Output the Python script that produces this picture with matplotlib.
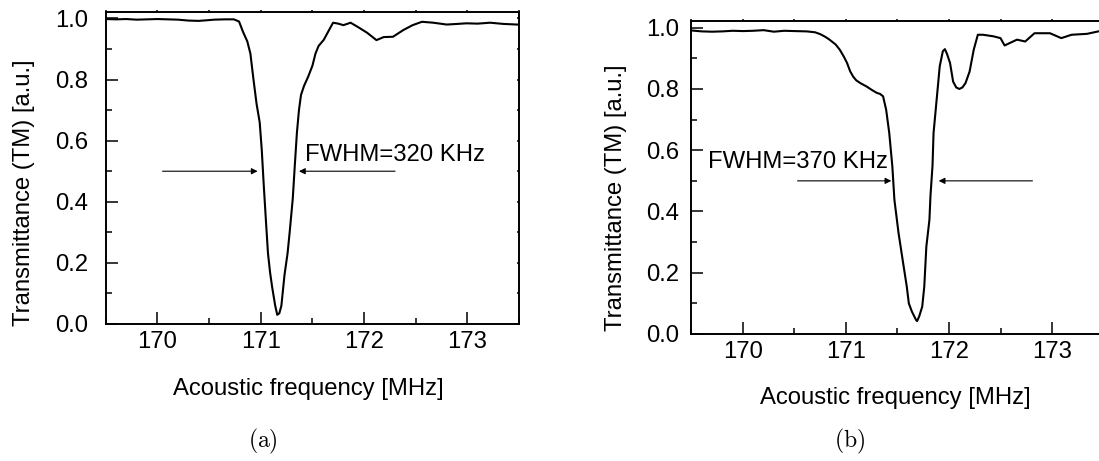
import matplotlib
matplotlib.use("Agg")
import matplotlib.pyplot as plt
from matplotlib.ticker import MultipleLocator

plt.rcParams['font.family'] = ['Liberation Sans', 'DejaVu Sans']
plt.rcParams['mathtext.fontset'] = 'cm'

# Panel (a): transmittance versus acoustic frequency
freq_a = [169.50, 169.60, 169.70, 169.80, 169.90, 170.00, 170.10, 170.20, 170.30,
          170.40, 170.48, 170.55, 170.65, 170.74, 170.79, 170.83, 170.87, 170.90,
          170.93, 170.96, 170.99, 171.01, 171.03, 171.05, 171.07, 171.09, 171.11,
          171.14, 171.16, 171.18, 171.20, 171.23, 171.26, 171.28, 171.31, 171.33,
          171.35, 171.37, 171.39, 171.42, 171.46, 171.50, 171.53, 171.56, 171.61,
          171.65, 171.70, 171.75, 171.80, 171.87, 171.95, 172.03, 172.12, 172.19,
          172.28, 172.38, 172.47, 172.56, 172.67, 172.80, 172.90, 172.99, 173.10,
          173.22, 173.35, 173.48]
trans_a = [0.998, 0.997, 0.998, 0.996, 0.997, 0.998, 0.997, 0.996, 0.993,
           0.992, 0.994, 0.996, 0.997, 0.997, 0.990, 0.955, 0.925, 0.885,
           0.800, 0.720, 0.660, 0.570, 0.450, 0.340, 0.232, 0.170, 0.122,
           0.060, 0.030, 0.035, 0.060, 0.160, 0.232, 0.300, 0.410, 0.520,
           0.625, 0.700, 0.750, 0.780, 0.810, 0.845, 0.885, 0.910, 0.930,
           0.955, 0.986, 0.983, 0.978, 0.986, 0.970, 0.953, 0.929, 0.939,
           0.940, 0.962, 0.978, 0.989, 0.986, 0.980, 0.982, 0.984, 0.983,
           0.986, 0.982, 0.980]

# Panel (b)
freq_b = [169.50, 169.60, 169.70, 169.80, 169.90, 170.00, 170.10, 170.20, 170.30,
          170.40, 170.50, 170.62, 170.70, 170.75, 170.80, 170.84, 170.90, 170.94,
          170.98, 171.01, 171.04, 171.07, 171.10, 171.14, 171.20, 171.25, 171.30,
          171.33, 171.36, 171.39, 171.42, 171.45, 171.47, 171.51, 171.54, 171.56,
          171.59, 171.61, 171.64, 171.68, 171.69, 171.71, 171.74, 171.76, 171.77,
          171.78, 171.81, 171.82, 171.84, 171.85, 171.88, 171.91, 171.94, 171.96,
          171.98, 172.01, 172.04, 172.07, 172.10, 172.13, 172.16, 172.20, 172.24,
          172.28, 172.33, 172.43, 172.50, 172.54, 172.59, 172.66, 172.74, 172.83,
          172.90, 172.98, 173.09, 173.19, 173.34, 173.45, 173.60]
trans_b = [0.991, 0.988, 0.987, 0.988, 0.990, 0.989, 0.990, 0.992, 0.987,
           0.990, 0.989, 0.988, 0.985, 0.979, 0.970, 0.961, 0.945, 0.928,
           0.905, 0.885, 0.858, 0.840, 0.828, 0.819, 0.808, 0.797, 0.787,
           0.784, 0.776, 0.732, 0.656, 0.547, 0.438, 0.330, 0.264, 0.220,
           0.155, 0.100, 0.073, 0.046, 0.042, 0.057, 0.089, 0.155, 0.220,
           0.285, 0.373, 0.450, 0.550, 0.656, 0.765, 0.874, 0.923, 0.930,
           0.915, 0.885, 0.824, 0.805, 0.800, 0.805, 0.819, 0.857, 0.928,
           0.977, 0.977, 0.972, 0.966, 0.942, 0.950, 0.961, 0.955, 0.982,
           0.982, 0.982, 0.966, 0.977, 0.980, 0.988, 0.990]

x_ticks = [170, 171, 172, 173]
y_ticks = [0.0, 0.2, 0.4, 0.6, 0.8, 1.0]
x_label = "Acoustic frequency [MHz]"
y_label = "Transmittance (TM) [a.u.]"

# FWHM annotations: (text, text position, left arrow tail/head, right arrow tail/head, level)
fwhm_a = ("FWHM=320 KHz", (171.43, 0.554), (170.05, 170.97), (172.30, 171.37), 0.5)
fwhm_b = ("FWHM=370 KHz", (169.66, 0.561), (170.53, 171.44), (172.81, 171.90), 0.5)

FS = 17.2

fig = plt.figure(figsize=(10.99, 4.61), dpi=100)
ax_a = fig.add_axes([0.0962, 0.2972, 0.3761, 0.6774])
ax_b = fig.add_axes([0.6292, 0.2755, 0.3749, 0.6790])


def style(ax, freq, trans, fwhm, ypad):
    ax.plot(freq, trans, color='black', lw=1.5)
    ax.set_xlim(169.5, 173.5)
    ax.set_ylim(0, 1.022)
    ax.set_xticks(x_ticks)
    ax.set_yticks(y_ticks)
    ax.set_yticklabels([f"{v:.1f}" for v in y_ticks])
    ax.xaxis.set_minor_locator(MultipleLocator(0.5))
    ax.yaxis.set_minor_locator(MultipleLocator(0.1))
    for s in ax.spines.values():
        s.set_linewidth(1.4)
    ax.tick_params(axis='both', which='major', direction='in', length=8.6,
                   width=1.1, labelsize=FS)
    ax.tick_params(axis='both', which='minor', direction='in', length=4.3,
                   width=1.1)
    ax.tick_params(axis='x', which='major', pad=5)
    ax.tick_params(axis='y', which='major', pad=ypad)
    # small outward marks along the top and right frame
    ax.tick_params(which='both', top=True, right=True)
    ax.tick_params(axis='x', which='both', labeltop=False)
    ax.tick_params(axis='y', which='both', labelright=False)
    for t in ax.xaxis.get_major_ticks() + ax.xaxis.get_minor_ticks():
        t.tick2line.set_markersize(1.5)
        t.tick2line.set_marker(2)
    for t in ax.yaxis.get_major_ticks() + ax.yaxis.get_minor_ticks():
        t.tick2line.set_markersize(1.5)
        t.tick2line.set_marker(0)
    ax.set_xlabel(x_label, fontsize=FS)
    ax.set_ylabel(y_label, fontsize=FS)

    text, pos, left, right, level = fwhm
    ax.text(pos[0], pos[1], text, fontsize=FS, ha='left', va='center')
    arrow = dict(arrowstyle='-|>', color='black', lw=0.8, mutation_scale=9,
                 shrinkA=0, shrinkB=0)
    ax.annotate('', xy=(left[1], level), xytext=(left[0], level), arrowprops=arrow)
    ax.annotate('', xy=(right[1], level), xytext=(right[0], level), arrowprops=arrow)


style(ax_a, freq_a, trans_a, fwhm_a, 12.5)
style(ax_b, freq_b, trans_b, fwhm_b, 9)
ax_a.xaxis.set_label_coords(0.49, -0.174)
ax_b.xaxis.set_label_coords(0.494, -0.170)
ax_a.yaxis.set_label_coords(-0.171, 0.421)
ax_b.yaxis.set_label_coords(-0.157, 0.434)

fig.text(263 / 1099, 1 - 441 / 461, r"$(\mathrm{a})$", fontsize=17,
         ha='center', va='center')
fig.text(850 / 1099, 1 - 441 / 461, r"$(\mathrm{b})$", fontsize=17,
         ha='center', va='center')

fig.savefig("out.png", dpi=100)
